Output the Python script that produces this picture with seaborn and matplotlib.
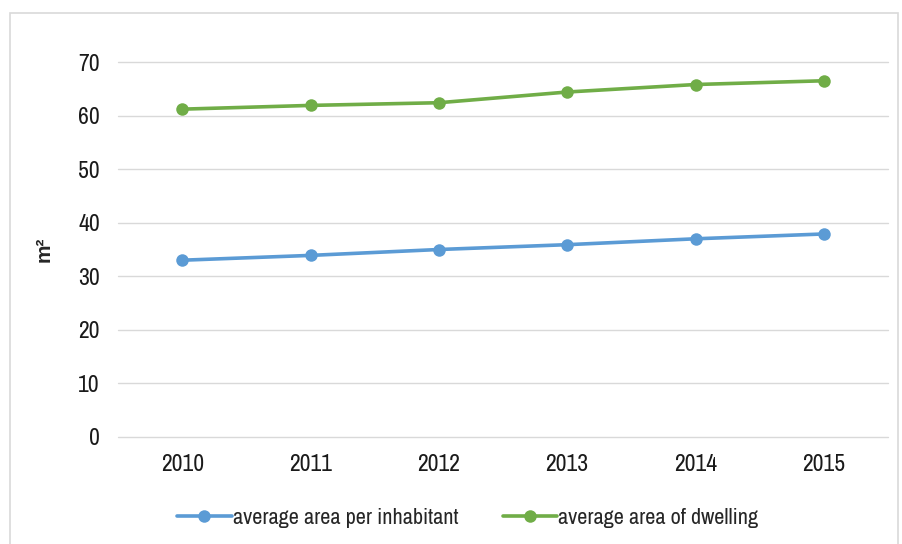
import matplotlib
matplotlib.use('Agg')
import matplotlib.pyplot as plt
from matplotlib.patches import Rectangle
import pandas as pd
import seaborn as sns

# dati
anni = ['2010', '2011', '2012', '2013', '2014', '2015']
area_per_abitante = [33.0, 33.9, 35.0, 35.9, 37.0, 37.9]
area_per_abitazione = [61.2, 61.9, 62.4, 64.4, 65.8, 66.5]
serie = ['average area per inhabitant', 'average area of dwelling']
colori = ['#5B9BD5', '#70AD47']

df = pd.DataFrame({
    'anno': anni * 2,
    'valore': area_per_abitante + area_per_abitazione,
    'serie': [serie[0]] * len(anni) + [serie[1]] * len(anni),
})

sns.set_style('white')
plt.rcParams['font.family'] = ['Liberation Sans Narrow', 'Archivo Narrow', 'Liberation Sans', 'DejaVu Sans']

fig = plt.figure(figsize=(9.03, 5.44), dpi=100)
ax = fig.add_axes([0.1307, 0.1967, 0.8527, 0.6893])

sns.lineplot(data=df, x='anno', y='valore', hue='serie', palette=colori,
             marker='o', markersize=9, markeredgewidth=0, linewidth=2.6,
             ax=ax, legend=False)

ax.set_ylim(0, 70)
ax.set_yticks(range(0, 71, 10))
ax.set_xlim(-0.5, len(anni) - 0.5)
ax.yaxis.grid(True, color='#D9D9D9', linewidth=1)
for g in ax.get_ygridlines():
    g.set_clip_on(False)
ax.set_axisbelow(True)
for s in ax.spines.values():
    s.set_visible(False)
ax.tick_params(axis='both', length=0, labelsize=17, colors='#1a1a1a')
ax.tick_params(axis='x', pad=12)
ax.tick_params(axis='y', pad=13)
ax.set_xlabel('')
ax.set_ylabel('m²', fontsize=15, fontweight='bold', family=['Liberation Sans', 'DejaVu Sans'])
ax.yaxis.set_label_coords(-0.084, 0.5)

# legenda in basso
handles = [plt.Line2D([], [], color=c, marker='o', markersize=9, linewidth=2.6,
                      markeredgewidth=0) for c in colori]
fig.legend(handles, serie, loc='center', bbox_to_anchor=(0.518, 0.048), ncol=2,
           frameon=False, fontsize=16, handlelength=2.45, handletextpad=0.05,
           columnspacing=2.0)

# bordo del riquadro
fig.patches.append(Rectangle((0.011, -0.01), 0.983, 0.986, transform=fig.transFigure,
                             fill=False, edgecolor='#D9D9D9', linewidth=1.2))

fig.savefig('out.png', dpi=100)
